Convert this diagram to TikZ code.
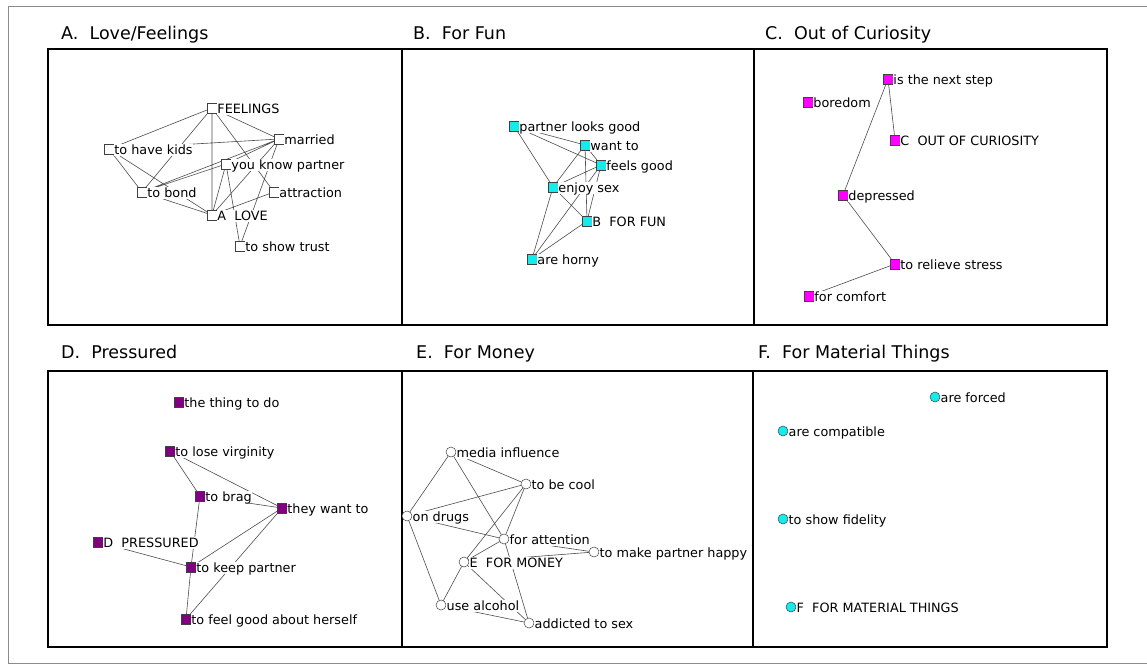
\documentclass[tikz,border=0pt]{standalone}
\usepackage{fontspec}
\setmainfont{DejaVu Sans}
\pgfdeclarelayer{edgelayer}
\pgfsetlayers{edgelayer,main}
\definecolor{cyanB}{RGB}{20,235,235}
\definecolor{magC}{RGB}{255,0,255}
\definecolor{purD}{RGB}{128,0,128}
\tikzset{
  lbl/.style={font=\fontsize{12.8}{14}\selectfont, inner sep=0.5pt, fill=white, text height=9.2pt, text depth=1.6pt, yshift=-1.3pt},
  base/.style={draw=black!75, line width=0.5pt, inner sep=0pt, outer sep=0pt, label distance=0.6pt},
  sqA/.style={base, rectangle, minimum size=9.5pt, fill=white},
  sqB/.style={base, rectangle, minimum size=9.5pt, fill=cyanB},
  sqC/.style={base, rectangle, minimum size=9.5pt, fill=magC},
  sqD/.style={base, rectangle, minimum size=9.5pt, fill=purD},
  ciE/.style={base, circle, minimum size=10pt, fill=white},
  ciF/.style={base, circle, minimum size=10pt, fill=cyanB},
  edge/.style={draw=black!70, line width=0.6pt},
  panel/.style={draw=black, line width=1.3pt},
  ptitle/.style={font=\fontsize{17.5}{20}\selectfont, anchor=base west, inner sep=0pt}
}
\begin{document}
\begin{tikzpicture}[x=1pt,y=-1pt]
\useasboundingbox (0,0) rectangle (1147,667);
% outer frame
\draw[black!45, line width=0.8pt] (1160,6) -- (8,6) -- (8,663) -- (1160,663);
% panels
\draw[panel] (48,49) rectangle (402,325);
\draw[panel] (402,49) rectangle (754,325);
\draw[panel] (754,49) rectangle (1107,325);
\draw[panel] (48,371) rectangle (402,647);
\draw[panel] (402,371) rectangle (753,647);
\draw[panel] (753,371) rectangle (1107,647);
% titles
\node[ptitle] (tA) at (61,39.5) {A.~~Love/Feelings};
\node[ptitle] (tB) at (413,39.5) {B.~~For Fun};
\node[ptitle] (tC) at (765,39.5) {C.~~Out of Curiosity};
\node[ptitle] (tD) at (61,358) {D.~~Pressured};
\node[ptitle] (tE) at (416,358) {E.~~For Money};
\node[ptitle] (tF) at (758,358) {F.~~For Material Things};

% ---------- Panel A ----------
\node[sqA, label={[lbl]right:FEELINGS}] (feel) at (212,108) {};
\node[sqA, label={[lbl]right:married}] (married) at (279,139) {};
\node[sqA, label={[lbl]right:to have kids}] (kids) at (109,149) {};
\node[sqA, label={[lbl]right:you know partner}] (ykp) at (226,164) {};
\node[sqA, label={[lbl]right:to bond}] (bond) at (142,192) {};
\node[sqA, label={[lbl]right:attraction}] (attr) at (274,192) {};
\node[sqA, label={[lbl]right:A~~LOVE}] (love) at (212,215) {};
\node[sqA, label={[lbl]right:to show trust}] (trust) at (240,246) {};

% ---------- Panel B ----------
\node[sqB, label={[lbl]right:partner looks good}] (plg) at (514,126) {};
\node[sqB, label={[lbl]right:want to}] (want) at (585,145) {};
\node[sqB, label={[lbl]right:feels good}] (feels) at (601,165) {};
\node[sqB, label={[lbl]right:enjoy sex}] (enjoy) at (553,187) {};
\node[sqB, label={[lbl]right:B~~FOR FUN}] (fun) at (587,221) {};
\node[sqB, label={[lbl]right:are horny}] (horny) at (532,259) {};

% ---------- Panel C ----------
\node[sqC, label={[lbl]right:is the next step}] (step) at (888,79) {};
\node[sqC, label={[lbl]right:boredom}] (bored) at (808,102) {};
\node[sqC, label={[lbl]right:C~~OUT OF CURIOSITY}] (cooc) at (895,140) {};
\node[sqC, label={[lbl]right:depressed}] (dep) at (843,195) {};
\node[sqC, label={[lbl]right:to relieve stress}] (stress) at (895,264) {};
\node[sqC, label={[lbl]right:for comfort}] (comfort) at (809,296) {};

% ---------- Panel D ----------
\node[sqD, label={[lbl]right:the thing to do}] (thing) at (179,402) {};
\node[sqD, label={[lbl]right:to lose virginity}] (virg) at (170,451) {};
\node[sqD, label={[lbl]right:to brag}] (brag) at (200,496) {};
\node[sqD, label={[lbl]right:they want to}] (they) at (282,508) {};
\node[sqD, label={[lbl]right:D~~PRESSURED}] (press) at (98,542) {};
\node[sqD, label={[lbl]right:to keep partner}] (keep) at (191,567) {};
\node[sqD, label={[lbl]right:to feel good about herself}] (fgood) at (186,619) {};

% ---------- Panel E ----------
\node[ciE, label={[lbl]right:media influence}] (media) at (451,452) {};
\node[ciE, label={[lbl]right:to be cool}] (cool) at (526,484) {};
\node[ciE, label={[lbl]right:on drugs}] (drugs) at (407,516) {};
\node[ciE, label={[lbl]right:for attention}] (att) at (504,539) {};
\node[ciE, label={[lbl]right:to make partner happy}] (happy) at (594,552) {};
\node[ciE, label={[lbl]right:E~~FOR MONEY}] (money) at (464,562) {};
\node[ciE, label={[lbl]right:use alcohol}] (alc) at (441,605) {};
\node[ciE, label={[lbl]right:addicted to sex}] (sex) at (529,623) {};

% ---------- Panel F ----------
\node[ciF, label={[lbl]right:are forced}] (forced) at (935,397) {};
\node[ciF, label={[lbl]right:are compatible}] (compat) at (783,431) {};
\node[ciF, label={[lbl]right:to show fidelity}] (fidel) at (783,519) {};
\node[ciF, label={[lbl]right:F~~FOR MATERIAL THINGS}] (mat) at (791,607) {};

% ---------- edges ----------
\begin{pgfonlayer}{edgelayer}
\path[edge]
  (feel) -- (kids) (feel) -- (bond) (feel) -- (love) (feel) -- (married)
  (feel) -- (attr) (married) -- (kids) (married) -- (bond) (married) -- (ykp)
  (bond) -- (ykp) (kids) -- (bond) (kids) -- (love) (bond) -- (love)
  (ykp) -- (love) (ykp) -- (trust) (married) -- (love) (married) -- (trust)
  (attr) -- (love)
  (plg) -- (want) (plg) -- (feels) (plg) -- (enjoy) (want) -- (feels)
  (want) -- (enjoy) (want) -- (fun) (feels) -- (enjoy) (feels) -- (fun)
  (feels) -- (horny) (enjoy) -- (fun) (enjoy) -- (horny) (fun) -- (horny)
  (step) -- (cooc) (step) -- (dep) (dep) -- (stress) (stress) -- (comfort)
  (virg) -- (brag) (virg) -- (they) (brag) -- (they) (brag) -- (keep)
  (they) -- (keep) (they) -- (fgood) (press) -- (keep) (keep) -- (fgood)
  (media) -- (cool) (media) -- (drugs) (media) -- (att) (cool) -- (drugs)
  (cool) -- (att) (cool) -- (money) (drugs) -- (att) (drugs) -- (alc)
  (att) -- (money) (att) -- (happy) (money) -- (happy) (att) -- (sex)
  (money) -- (alc) (money) -- (sex) (alc) -- (sex);
\end{pgfonlayer}
\end{tikzpicture}
\end{document}
